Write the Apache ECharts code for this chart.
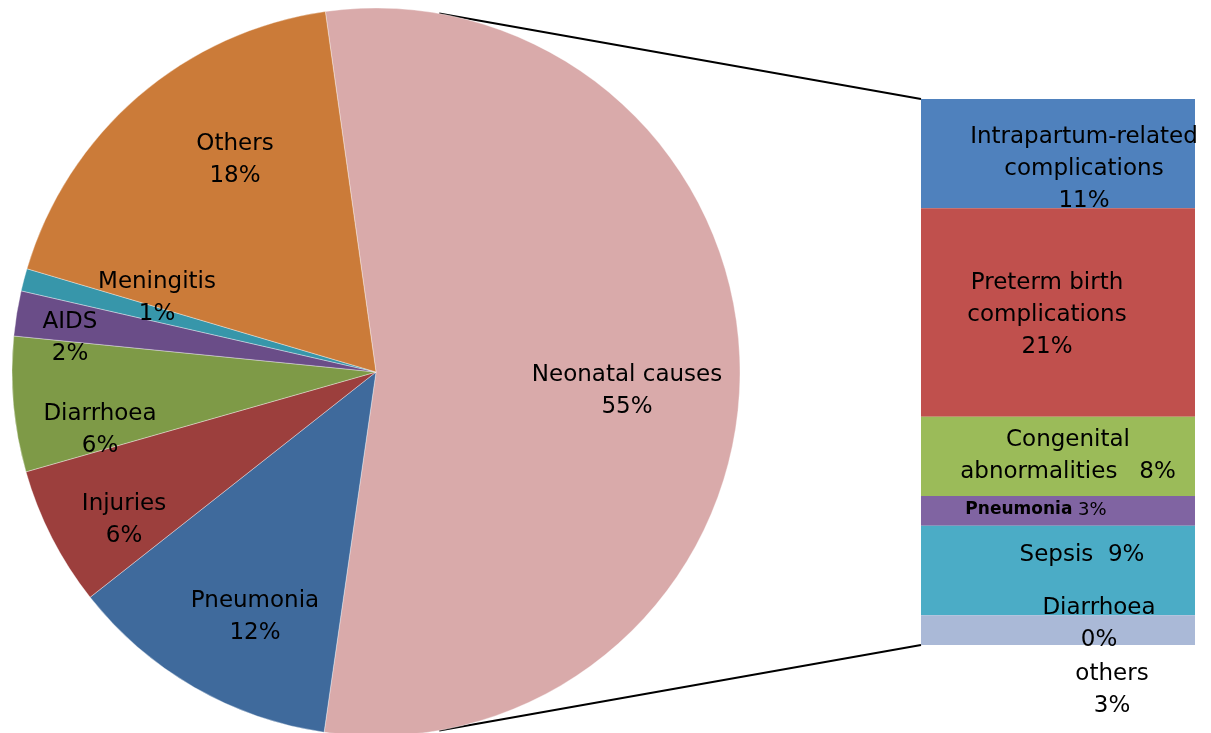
<!DOCTYPE html>
<html>
<head>
<meta charset="utf-8">
<script src="https://cdn.jsdelivr.net/npm/echarts@6/dist/echarts.min.js"></script>
<style>
    html, body { margin: 0; padding: 0; background: #fff; }
    #chart { width: 1211px; height: 733px; }
</style>
</head>
<body>
<div id="chart"></div>
<script>
// 饼图数据：死因构成（按扇区角度读取，标签四舍五入显示）
const pieNames = ["Neonatal causes", "Pneumonia", "Injuries", "Diarrhoea", "AIDS", "Meningitis", "Others"];
const pieValues = [54.5, 12.1, 6.2, 6.0, 2.0, 1.0, 18.2];
const pieColors = ["#D9AAAA", "#3F6A9C", "#9C3F3D", "#7E9A47", "#6A4D88", "#3796AA", "#CB7B39"];

// 右侧堆叠条：新生儿死因细分
const barNames = ["Intrapartum-related complications", "Preterm birth complications", "Congenital abnormalities", "Pneumonia", "Sepsis", "Diarrhoea", "others"];
const barValues = [11, 21, 8, 3, 9, 0, 3];
const barColors = ["#4F81BD", "#C0504D", "#9BBB59", "#8064A2", "#4BACC6", "#7F9FD0", "#AAB9D7"];
const barLabelText = [
    "Intrapartum-related\ncomplications\n",
    "Preterm birth\ncomplications\n",
    "Congenital\nabnormalities   ",
    "{b|Pneumonia} ",
    "Sepsis  ",
    "Diarrhoea\n",
    "others\n",
];

// 标签位置（布局用）
const pieLabelPos = [[627, 391], [255, 617], [124, 520], [100, 430], [70, 338], [157, 298], [235, 160]];
const barLabelPos = [[1084, 169], [1047, 315], [1068, 456], [1036, 510], [1082, 555], [1099, 624], [1112, 690]];

const pieCenter = [376, 372];
const pieRadius = 364;
const pieStart = 98;
const grid = { left: 921, top: 99, width: 274, height: 546 };

const FONT = "DejaVu Sans";

const chart = echarts.init(document.getElementById("chart"));

const barSeries = barNames.map((name, i) => ({
    type: "bar",
    name: name,
    stack: "neo",
    barWidth: "100%",
    data: [barValues[i]],
    itemStyle: { color: barColors[i] },
    silent: true,
    label: {
        show: true,
        position: "inside",
        formatter: () => barLabelText[i] + barValues[i] + "%",
        color: "#000",
        fontFamily: FONT,
        fontSize: i === 3 ? 18 : 23,
        lineHeight: 32,
        align: "center",
        rich: {
            b: { fontFamily: FONT, fontSize: 17, fontWeight: "bold", color: "#000" },
        },
    },
    labelLayout: () => ({
        x: barLabelPos[i][0],
        y: barLabelPos[i][1],
        align: "center",
        verticalAlign: "middle",
    }),
}));

// 连接线：饼图边缘 → 条形上下边
const a1 = 80 * Math.PI / 180;
const a2 = -80 * Math.PI / 180;
const p1 = [pieCenter[0] + pieRadius * Math.cos(a1), pieCenter[1] - pieRadius * Math.sin(a1)];
const p2 = [pieCenter[0] + pieRadius * Math.cos(a2), pieCenter[1] - pieRadius * Math.sin(a2)];

chart.setOption({
    animation: false,
    grid: { left: grid.left, top: grid.top, width: grid.width, height: grid.height },
    xAxis: { type: "category", data: ["neo"], show: false },
    yAxis: { type: "value", min: 0, max: 55, inverse: true, show: false },
    series: [
        {
            type: "pie",
            center: pieCenter,
            radius: pieRadius,
            startAngle: pieStart,
            clockwise: true,
            silent: true,
            data: pieNames.map((n, i) => ({ name: n, value: pieValues[i], itemStyle: { color: pieColors[i] } })),
            itemStyle: { borderColor: "rgba(255,255,255,0.6)", borderWidth: 0.6 },
            label: {
                show: true,
                position: "inside",
                formatter: (p) => p.name + "\n" + Math.round(p.value) + "%",
                color: "#000",
                fontFamily: FONT,
                fontSize: 23,
                lineHeight: 32,
                align: "center",
            },
            labelLine: { show: false },
            labelLayout: (params) => ({
                x: pieLabelPos[params.dataIndex][0],
                y: pieLabelPos[params.dataIndex][1],
                align: "center",
                verticalAlign: "middle",
            }),
        },
        ...barSeries,
    ],
    graphic: [
        {
            type: "line",
            shape: { x1: p1[0], y1: p1[1], x2: grid.left, y2: grid.top },
            style: { stroke: "#000", lineWidth: 2 },
        },
        {
            type: "line",
            shape: { x1: p2[0], y1: p2[1], x2: grid.left, y2: grid.top + grid.height },
            style: { stroke: "#000", lineWidth: 2 },
        },
    ],
});
</script>
</body>
</html>
